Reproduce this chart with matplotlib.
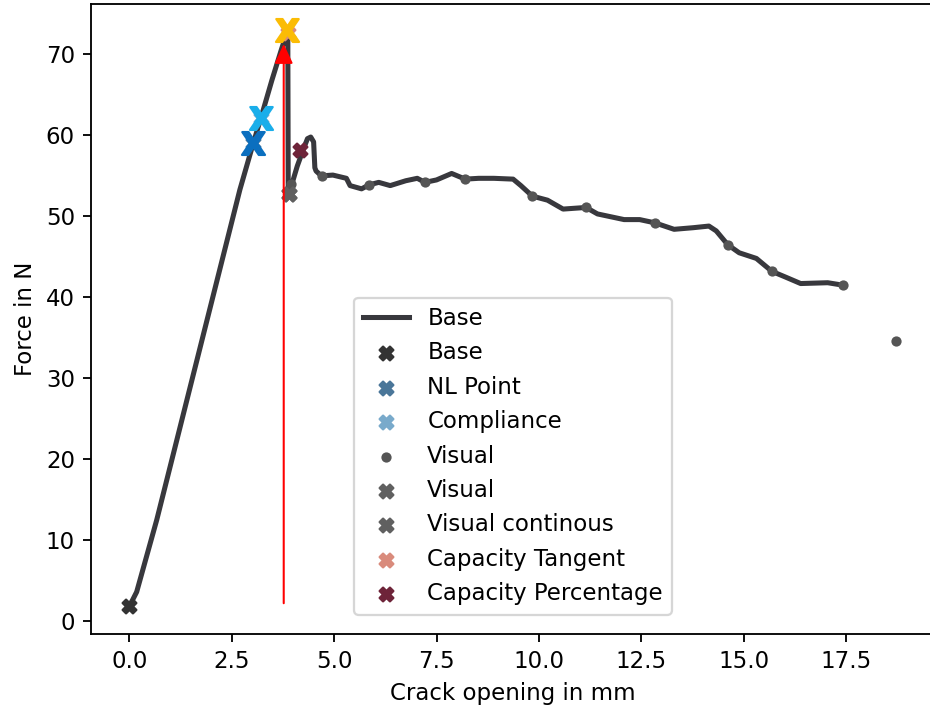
import matplotlib
matplotlib.use("Agg")
import matplotlib.pyplot as plt

# ---- data ----
curve_x = [0.0, 0.08, 0.18, 0.67, 1.54, 2.70, 3.03, 3.21, 3.48, 3.70, 3.84, 3.87, 3.88,
           4.00, 4.10, 4.25, 4.35, 4.43, 4.50, 4.53, 4.56, 4.69, 4.97, 5.30, 5.39, 5.67,
           5.86, 6.09, 6.37, 6.75, 7.03, 7.22, 7.50, 7.87, 8.20, 8.53, 8.90, 9.37, 9.56,
           9.84, 10.21, 10.59, 11.15, 11.43, 12.08, 12.46, 12.83, 13.30, 13.77, 14.15,
           14.33, 14.61, 14.89, 15.31, 15.69, 16.02, 16.39, 17.05, 17.42]
curve_y = [1.9, 2.6, 3.6, 12.5, 30.0, 53.3, 59.1, 62.1, 66.8, 70.4, 72.6, 72.4, 52.7,
           54.5, 56.2, 58.3, 59.6, 59.8, 59.2, 56.0, 55.6, 55.0, 55.1, 54.7, 53.8, 53.4,
           53.9, 54.2, 53.8, 54.4, 54.7, 54.2, 54.5, 55.3, 54.6, 54.7, 54.7, 54.6, 53.8,
           52.5, 52.0, 50.9, 51.1, 50.3, 49.6, 49.6, 49.2, 48.4, 48.6, 48.8,
           48.2, 46.5, 45.5, 44.8, 43.2, 42.5, 41.7, 41.8, 41.5]

base_pt = (0.0, 1.9)
nl_pt = (3.03, 59.1)
compliance_pt = (3.21, 62.1)
peak_pt = (3.85, 73.0)
visual_dots_x = [3.95, 4.70, 5.86, 7.22, 8.20, 9.84, 11.15, 12.83, 14.61, 15.69, 17.42, 18.73]
visual_dots_y = [54.0, 55.0, 53.9, 54.2, 54.6, 52.5, 51.1, 49.2, 46.5, 43.2, 41.5, 34.6]
visual_x_pt = (3.90, 52.8)
visual_cont_pt = (3.90, 52.8)
cap_tangent_pt = (3.87, 72.7)
cap_percent_pt = (4.17, 58.2)
arrow_x = 3.77
arrow_y0, arrow_y1 = 2.2, 71.3

# ---- figure ----
DPI = 165
plt.rcParams['font.family'] = ['DejaVu Sans']
plt.rcParams['font.size'] = 10
fig = plt.figure(figsize=(930/DPI, 711/DPI), dpi=DPI)
ax = fig.add_axes([91/930, 1-634/711, (935-91)/930, (634-4.3)/711])

ax.plot(curve_x, curve_y, color='#38383d', lw=2.2, label='Base', zorder=2)
ax.scatter([base_pt[0]], [base_pt[1]], marker='X', s=36, color='#333333', label='Base', zorder=3)
ax.scatter([nl_pt[0]], [nl_pt[1]], marker='X', s=36, color='#4a7699', label='NL Point', zorder=1)
ax.scatter([compliance_pt[0]], [compliance_pt[1]], marker='X', s=36, color='#79aacb', label='Compliance', zorder=1)
ax.scatter(visual_dots_x, visual_dots_y, marker='o', s=20, color='#555555', label='Visual', zorder=3, lw=0)
ax.scatter([visual_x_pt[0]], [visual_x_pt[1]], marker='X', s=36, color='#606060', label='Visual', zorder=3)
ax.scatter([visual_cont_pt[0]], [visual_cont_pt[1]], marker='X', s=36, color='#606060', label='Visual continous', zorder=3)
ax.scatter([cap_tangent_pt[0]], [cap_tangent_pt[1]], marker='X', s=36, color='#d98b7c', label='Capacity Tangent', zorder=3)
ax.scatter([cap_percent_pt[0]], [cap_percent_pt[1]], marker='X', s=36, color='#6e2439', label='Capacity Percentage', zorder=3)

# highlighted big "X" markers
for pt, col in [(nl_pt, '#0b6fbf'), (compliance_pt, '#1aaeea'), (peak_pt, '#fbbc05')]:
    ax.plot([pt[0]], [pt[1]], ls='none', marker=r'$\mathbf{X}$', ms=10,
            color=col, mec=col, zorder=5)

ax.annotate('', xy=(arrow_x, arrow_y1), xytext=(arrow_x, arrow_y0),
            arrowprops=dict(arrowstyle='-|>,head_width=0.17,head_length=0.36', color='red',
                            lw=0.9, mutation_scale=20, shrinkA=0, shrinkB=0), zorder=4)

ax.set_xlim(-0.935, 19.67)
ax.set_ylim(-1.6, 76.2)
ax.set_xticks([0, 2.5, 5, 7.5, 10, 12.5, 15, 17.5])
ax.set_yticks([0, 10, 20, 30, 40, 50, 60, 70])
ax.set_xlabel('Crack opening in mm')
ax.set_ylabel('Force in N')

ax.legend(loc='lower center', bbox_to_anchor=((513-91)/(935-91), 0.0), fontsize=10,
          borderaxespad=0.85)

fig.savefig('out.png', dpi=DPI)
